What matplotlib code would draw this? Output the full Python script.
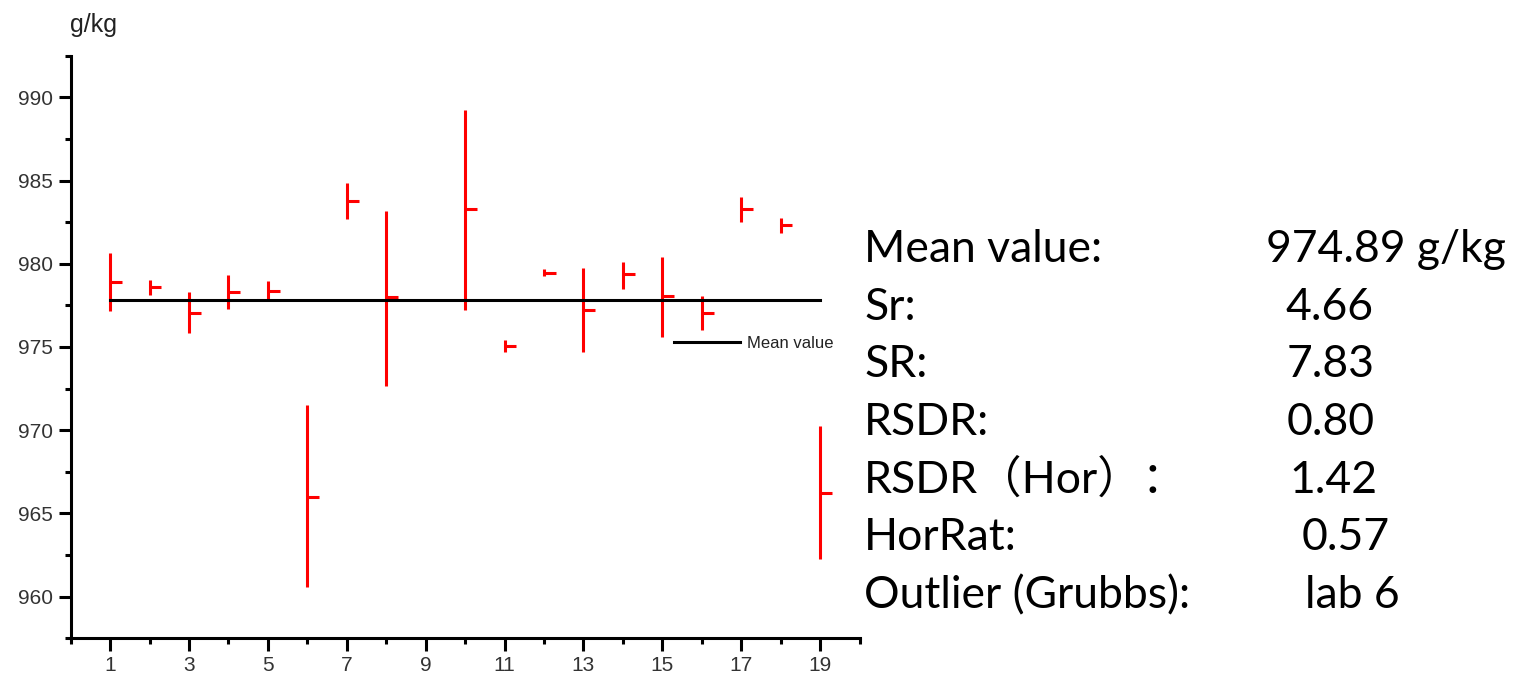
import numpy as np
import matplotlib.pyplot as plt

# Per-lab results: range (min/max) and lab mean, g/kg
labs = [1, 2, 3, 4, 5, 6, 7, 8, 10, 11, 12, 13, 14, 15, 16, 17, 18, 19]
lows = [977.14, 978.15, 975.85, 977.30, 977.90, 960.58, 982.71, 972.67, 977.25,
        974.67, 979.25, 974.67, 978.51, 975.58, 976.00, 982.53, 981.83, 962.25]
highs = [980.66, 979.05, 978.30, 979.34, 978.95, 971.50, 984.84, 983.20, 989.25,
         975.40, 979.66, 979.76, 980.10, 980.40, 978.09, 984.04, 982.73, 970.28]
means = [978.90, 978.60, 977.05, 978.30, 978.35, 966.00, 983.77, 977.99, 983.31,
         975.04, 979.46, 977.25, 979.36, 978.05, 977.05, 983.31, 982.30, 966.24]

# Summary statistics shown beside the chart
stat_names = ["Mean value:", "Sr:", "SR:", "RSDR:", "RSDR\uff08Hor\uff09\uff1a", "HorRat:", "Outlier (Grubbs):"]
stat_values = ["974.89 g/kg", "4.66", "7.83", "0.80", "1.42", "0.57", "lab 6"]

red = "#ff0000"
tick_font = "Liberation Sans"
stat_font = ["Lato", "Noto Sans CJK SC"]
lw = 2.2

fig = plt.figure(figsize=(15.17, 6.77), dpi=100)
ax = fig.add_axes([0.0466, 0.0572, 0.52, 0.8605])

x = np.array(labs, dtype=float)
ax.vlines(x, lows, highs, color=red, lw=lw)
ax.hlines(means, x, x + 0.3, color=red, lw=lw)

grand_mean = np.mean(means)
ax.plot([labs[0], labs[-1]], [grand_mean, grand_mean], color="black", lw=lw, label="Mean value")

ax.set_xlim(0, 20)
ax.set_ylim(957.5, 992.5)
ax.set_xticks(np.arange(1, 20, 2))
ax.set_xticks(np.arange(0, 21, 2), minor=True)
ax.set_yticks(np.arange(960, 991, 5))
ax.set_yticks(np.arange(957.5, 993, 5), minor=True)

for side in ("top", "right"):
    ax.spines[side].set_visible(False)
for side in ("left", "bottom"):
    ax.spines[side].set_linewidth(lw)
ax.tick_params(which="major", direction="out", length=9, width=lw, labelsize=15,
               labelcolor="#333333", pad=4)
ax.tick_params(which="minor", direction="out", length=4.5, width=lw)
for lab in ax.get_xticklabels() + ax.get_yticklabels():
    lab.set_fontfamily(tick_font)

fig.text(70 / 1517, 1 - 25 / 677, "g/kg", fontsize=18, family=tick_font,
         color="#222222", ha="left", va="center")

leg = ax.legend(loc="center left", bbox_to_anchor=(0.765, 0.506), frameon=False,
                handlelength=3.96, handletextpad=0.4, borderpad=0, borderaxespad=0,
                prop={"family": tick_font, "size": 12})
for t in leg.get_texts():
    t.set_color("#222222")

# Statistics panel
value_x = [1266, 1285, 1287, 1287, 1289, 1302, 1305]
for i, (name, val) in enumerate(zip(stat_names, stat_values)):
    yb = 1 - (262 + i * 57.7) / 677
    fig.text(864 / 1517, yb, name, fontsize=32, family=stat_font,
             color="black", ha="left", va="baseline")
    fig.text(value_x[i] / 1517, yb, val, fontsize=32, family=stat_font,
             color="black", ha="left", va="baseline")

fig.savefig("out.png", dpi=100)
